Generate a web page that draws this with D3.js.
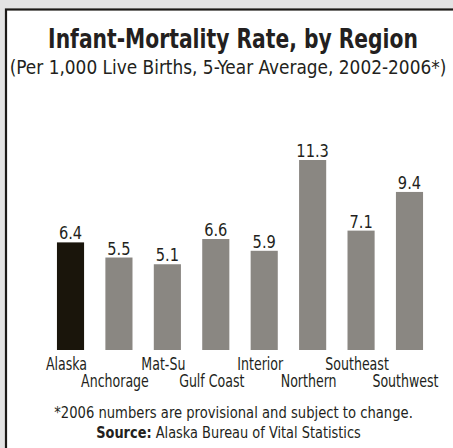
<!DOCTYPE html>
<html>
<head>
<meta charset="utf-8">
<script src="https://cdn.jsdelivr.net/npm/d3@7"></script>
<style>
  html, body { margin: 0; padding: 0; background: #e3e3e3; }
  svg { display: block; }
  text { font-family: 'DejaVu Sans Condensed', 'DejaVu Sans', sans-serif; fill: #231f20; }
</style>
</head>
<body>
<div id="chart"></div>
<script>
const categories = ["Alaska", "Anchorage", "Mat-Su", "Gulf Coast", "Interior", "Northern", "Southeast", "Southwest"];
const values = [6.4, 5.5, 5.1, 6.6, 5.9, 11.3, 7.1, 9.4];
const valueLabels = ["6.4", "5.5", "5.1", "6.6", "5.9", "11.3", "7.1", "9.4"];
const labelRow = [0, 1, 0, 1, 0, 1, 0, 1];
const title = "Infant-Mortality Rate, by Region";
const subtitle = "(Per 1,000 Live Births, 5-Year Average, 2002-2006*)";
const footnote = "*2006 numbers are provisional and subject to change.";
const sourceLabel = "Source:";
const sourceText = " Alaska Bureau of Vital Statistics";

const W = 453, H = 448;
const svg = d3.select("#chart").append("svg").attr("width", W).attr("height", H);

// place a centred text at (cx, by) and squeeze it horizontally (condensed look)
function placeScaled(sel, cxFn, byFn, factorFn) {
  sel.each(function (d, i) {
    const w = this.getComputedTextLength();
    const k = factorFn(w, d, i);
    d3.select(this).attr("x", 0).attr("y", 0).attr("text-anchor", "middle")
      .attr("transform", `translate(${cxFn(d, i)},${byFn(d, i)}) scale(${k},1)`);
  });
}

// panel
svg.append("rect").attr("x", 0).attr("y", 0).attr("width", W).attr("height", H).attr("fill", "#e3e3e3");
svg.append("rect").attr("x", 6).attr("y", 9.5).attr("width", W + 10).attr("height", H + 10)
  .attr("fill", "#ffffff").attr("stroke", "#1c1a17").attr("stroke-width", 2.2);

const x = d3.scaleBand().domain(categories).range([46.3, 433.7]).paddingInner(0.44).paddingOuter(0.22);
const y = d3.scaleLinear().domain([0, 11.3]).range([350, 160]);

// title
svg.append("text").style("font-size", "27px").style("font-weight", "bold").text(title)
  .call(placeScaled, () => 233, () => 48, w => 370 / w);
svg.append("text").style("font-size", "20px").text(subtitle)
  .call(placeScaled, () => 228, () => 74, w => 437 / w);

// bars
svg.append("g").selectAll("rect").data(categories).join("rect")
  .attr("x", d => x(d))
  .attr("width", x.bandwidth())
  .attr("y", (d, i) => y(values[i]))
  .attr("height", (d, i) => y(0) - y(values[i]))
  .attr("fill", (d, i) => i === 0 ? "#1a150b" : "#8a8782");

// value labels
svg.append("g").selectAll("text").data(categories).join("text")
  .style("font-size", "17.5px")
  .text((d, i) => valueLabels[i])
  .call(placeScaled, d => x(d) + x.bandwidth() / 2, (d, i) => y(values[i]) - 3, () => 0.93);

// category labels
svg.append("g").selectAll("text").data(categories).join("text")
  .style("font-size", "17.5px")
  .text(d => d)
  .call(placeScaled, d => x(d) + x.bandwidth() / 2 - 4, (d, i) => labelRow[i] === 0 ? 370 : 387, () => 0.8);

// footnote
svg.append("text").style("font-size", "15.5px").text(footnote)
  .call(placeScaled, () => 233.5, () => 418, w => 359 / w);
const src = svg.append("text").style("font-size", "15.5px");
src.append("tspan").style("font-weight", "bold").text(sourceLabel);
src.append("tspan").text(sourceText);
src.call(placeScaled, () => 228.5, () => 438, w => 265 / w);
</script>
</body>
</html>
